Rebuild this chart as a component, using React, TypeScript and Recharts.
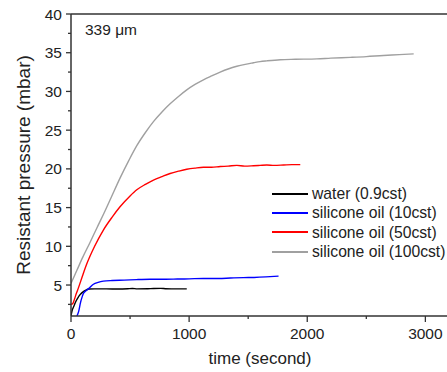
import { Line, LineChart, ReferenceLine, XAxis, YAxis } from "recharts";

const FONT = '"Liberation Sans", Arial, sans-serif';
const AXIS = "#333333";

// time (s) / resistant pressure (mbar) per fluid
const waterTime = [0, 8, 25, 45, 62, 80, 105, 130, 150, 200, 300, 400, 480, 520, 560, 650, 700, 760, 800, 850, 900, 980];
const waterPressure = [1.0, 1.6, 2.3, 3.0, 3.45, 3.8, 4.15, 4.38, 4.48, 4.5, 4.5, 4.48, 4.52, 4.56, 4.5, 4.52, 4.56, 4.57, 4.52, 4.5, 4.5, 4.5];

const oil10Time = [50, 65, 80, 95, 105, 130, 147, 170, 190, 230, 274, 350, 450, 557, 669, 800, 900, 1000, 1121, 1250, 1350, 1460, 1550, 1650, 1720, 1757];
const oil10Pressure = [1.0, 1.6, 2.7, 3.5, 3.9, 4.3, 4.5, 4.85, 5.1, 5.35, 5.5, 5.58, 5.63, 5.7, 5.74, 5.74, 5.77, 5.8, 5.85, 5.84, 5.9, 5.96, 5.98, 6.05, 6.12, 6.15];

const oil50Time = [0, 15, 30, 45, 62, 100, 133, 200, 274, 350, 415, 500, 557, 630, 698, 770, 839, 910, 980, 1050, 1121, 1190, 1263, 1330, 1404, 1470, 1545, 1600, 1658, 1720, 1800, 1870, 1941];
const oil50Pressure = [2.5, 2.6, 3.2, 3.9, 4.6, 6.3, 7.7, 10.0, 12.1, 13.8, 15.1, 16.5, 17.3, 18.0, 18.55, 19.0, 19.4, 19.7, 19.95, 20.1, 20.2, 20.2, 20.3, 20.35, 20.45, 20.35, 20.4, 20.45, 20.5, 20.45, 20.5, 20.55, 20.55];

const oil100Time = [0, 50, 100, 161, 220, 280, 340, 415, 490, 557, 630, 698, 770, 839, 910, 980, 1050, 1121, 1190, 1263, 1330, 1404, 1475, 1545, 1600, 1658, 1771, 1900, 2082, 2200, 2364, 2500, 2645, 2780, 2901];
const oil100Pressure = [5.2, 6.9, 8.6, 10.5, 12.4, 14.3, 16.3, 18.8, 21.1, 23.0, 24.7, 26.1, 27.35, 28.4, 29.35, 30.2, 30.9, 31.5, 32.0, 32.5, 32.9, 33.25, 33.5, 33.7, 33.85, 33.95, 34.1, 34.15, 34.2, 34.3, 34.4, 34.5, 34.65, 34.75, 34.85];

const xMajorTicks = [0, 1000, 2000, 3000];
const xMinorTicks = [500, 1500, 2500];
const yMajorTicks = [5, 10, 15, 20, 25, 30, 35, 40];
const yMinorTicks = [2.5, 7.5, 12.5, 17.5, 22.5, 27.5, 32.5, 37.5];

const toPoints = (t: number[], p: number[]) => t.map((time, i) => ({ time, pressure: p[i] }));

const series = [
  { name: "water (0.9cst)", color: "#000000", data: toPoints(waterTime, waterPressure) },
  { name: "silicone oil (10cst)", color: "#0000ff", data: toPoints(oil10Time, oil10Pressure) },
  { name: "silicone oil (50cst)", color: "#ff0000", data: toPoints(oil50Time, oil50Pressure) },
  { name: "silicone oil (100cst)", color: "#a0a0a0", data: toPoints(oil100Time, oil100Pressure) },
];

function XTick(props: any) {
  const { x, y, payload } = props;
  const major = xMajorTicks.includes(payload.value);
  // y here is below the tick line (tickSize 6 + tickMargin 6)
  const axisY = y - 12;
  return (
    <g>
      <line x1={x} x2={x} y1={axisY} y2={axisY + (major ? 6 : 3)} stroke={AXIS} strokeWidth={1.3} />
      {major && (
        <text x={x} y={y} dy="0.71em" textAnchor="middle" fontSize={15.5} fill="#222" fontFamily={FONT}>
          {payload.value}
        </text>
      )}
    </g>
  );
}

function YTick(props: any) {
  const { x, y, payload } = props;
  const major = yMajorTicks.includes(payload.value);
  // x is the label anchor (tickSize 5 + tickMargin 4 left of the axis)
  const axisX = x + 9;
  return (
    <g>
      <line x1={axisX - (major ? 5 : 3)} x2={axisX} y1={y} y2={y} stroke={AXIS} strokeWidth={1.3} />
      {major && (
        <text x={x} y={y} dy="0.355em" textAnchor="end" fontSize={15.5} fill="#222" fontFamily={FONT}>
          {payload.value}
        </text>
      )}
    </g>
  );
}

export default function App() {
  return (
    <div
      style={{
        position: "absolute",
        left: 0,
        top: 0,
        width: 447,
        height: 372,
        overflow: "hidden",
        background: "#fff",
        fontFamily: FONT,
      }}
    >
      <LineChart width={460} height={372} margin={{ top: 14, right: 11, left: 0, bottom: 0 }}>
        <XAxis
          type="number"
          dataKey="time"
          domain={[0, 3200]}
          ticks={[...xMajorTicks, ...xMinorTicks]}
          interval={0}
          tick={<XTick />}
          tickLine={false}
          tickSize={6}
          tickMargin={6}
          height={56}
          axisLine={{ stroke: AXIS, strokeWidth: 1.5 }}
          allowDataOverflow
          label={{
            value: "time (second)",
            position: "insideBottom",
            offset: 8,
            fontSize: 17,
            fill: "#222",
            fontFamily: FONT,
          }}
        />
        <YAxis
          type="number"
          dataKey="pressure"
          domain={[1, 40]}
          ticks={[...yMinorTicks, ...yMajorTicks]}
          interval={0}
          tick={<YTick />}
          tickLine={false}
          tickSize={5}
          tickMargin={4}
          width={71}
          axisLine={{ stroke: AXIS, strokeWidth: 1.5 }}
          allowDataOverflow
          label={{
            value: "Resistant pressure (mbar)",
            angle: -90,
            position: "insideLeft",
            offset: 23,
            fontSize: 19,
            fill: "#222",
            fontFamily: FONT,
            style: { textAnchor: "middle" },
          }}
        />
        <ReferenceLine y={40} stroke={AXIS} strokeWidth={1.5} />
        {series.map((s) => (
          <Line
            key={s.name}
            data={s.data}
            dataKey="pressure"
            name={s.name}
            type="monotone"
            stroke={s.color}
            strokeWidth={1.4}
            dot={false}
            isAnimationActive={false}
          />
        ))}
        <text x={85} y={35} fontSize={15.5} fill="#222" fontFamily={FONT}>
          339 μm
        </text>
      </LineChart>

      <div style={{ position: "absolute", left: 272, top: 184 }}>
        {series.map((s) => (
          <div key={s.name} style={{ display: "flex", alignItems: "center", height: 19.3, whiteSpace: "nowrap" }}>
            <span style={{ display: "block", width: 36, height: 2, background: s.color, marginRight: 4 }} />
            <span style={{ fontSize: 15.7, lineHeight: "19.3px", color: "#222" }}>{s.name}</span>
          </div>
        ))}
      </div>
    </div>
  );
}
